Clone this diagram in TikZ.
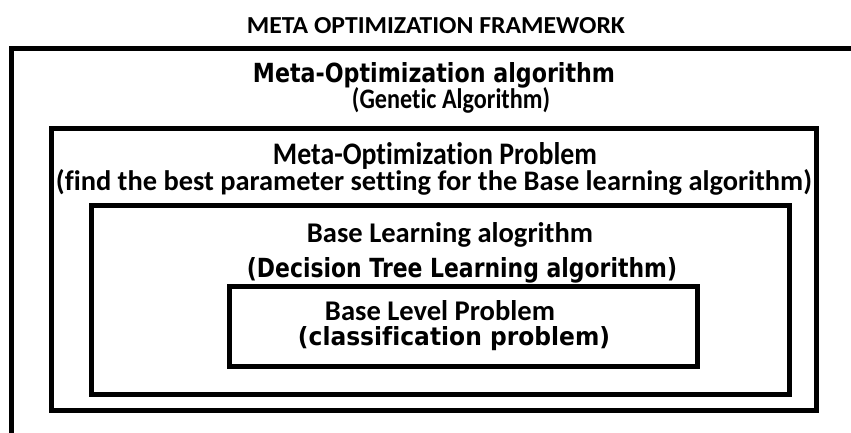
\documentclass[tikz,border=0pt]{standalone}
\usepackage{fontspec}
\usepackage{graphicx}
\newfontfamily\calfont{Carlito}[Ligatures=NoCommon]
\newfontfamily\dvfont{DejaVu Sans}[Ligatures=NoCommon]
\newcommand\fitto[3]{\resizebox{#1pt}{#2pt}{#3}}
\begin{document}
\begin{tikzpicture}[x=1pt,y=-1pt,
  box/.style={draw=black, line width=5pt, inner sep=0pt, outer sep=0pt, line join=miter},
  lbl/.style={anchor=base, inner sep=0pt, outer sep=0pt, text=black}]
\useasboundingbox (0,0) rectangle (851,432);
\fill[white] (0,0) rectangle (851,432);
\clip (0,0) rectangle (851,432);
% outer frame (cut by the picture edge)
\coordinate (obl) at (11.5,445);
\coordinate (otl) at (11.5,48.5);
\coordinate (otr) at (865,48.5);
\draw[line width=5.5pt, line join=miter] (obl) -- (otl) -- (otr);
% nested boxes
\node[box, minimum width=765pt, minimum height=281.5pt] (b2) at (434,269.25) {};
\node[box, minimum width=698pt, minimum height=189.5pt] (b3) at (440.5,299.75) {};
\node[box, minimum width=468pt, minimum height=79.5pt] (b4) at (463.5,326.25) {};
% texts
\node[lbl] (title) at (436,33) {\fitto{378}{16}{\calfont\bfseries META OPTIMIZATION FRAMEWORK}};
\node[lbl] (t1) at (434,82) {\fitto{362}{20}{\dvfont\bfseries Meta-Optimization algorithm}};
\node[lbl] (t2) at (451,108) {\fitto{198}{21}{\calfont\bfseries (Genetic Algorithm)}};
\node[lbl] (t3) at (435,164) {\fitto{324}{22}{\calfont\bfseries Meta-Optimization Problem}};
\node[lbl] (t4) at (434,190) {\fitto{756}{21}{\calfont\bfseries (find the best parameter setting for the Base learning algorithm)}};
\node[lbl] (t5) at (450,242) {\fitto{286}{20}{\calfont\bfseries Base Learning alogrithm}};
\node[lbl] (t6) at (462,277) {\fitto{430}{20}{\dvfont\bfseries (Decision Tree Learning algorithm)}};
\node[lbl] (t7) at (440,320) {\fitto{230}{20}{\calfont\bfseries Base Level Problem}};
\node[lbl] (t8) at (454,345) {\fitto{312}{19}{\dvfont\bfseries (classification problem)}};
\end{tikzpicture}
\end{document}
